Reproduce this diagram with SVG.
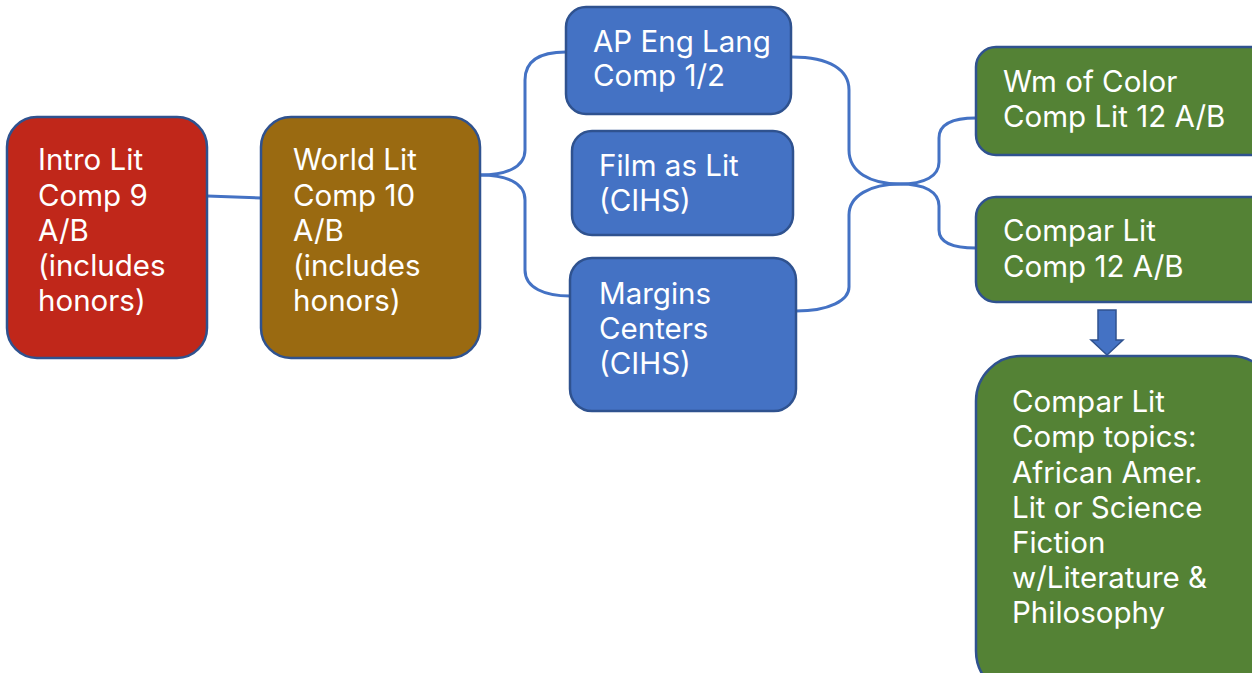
<svg xmlns="http://www.w3.org/2000/svg" width="1252" height="673" viewBox="0 0 1252 673">
<style>
.n{stroke:#2F528F;stroke-width:2.5}
.t{font-family:Inter,"Liberation Sans",sans-serif;font-size:29.5px;fill:#FFFFFF}
.c{fill:none;stroke:#4472C4;stroke-width:3}
</style>
<rect width="1252" height="673" fill="#FFFFFF"/>
<g id="connectors">
<path class="c" d="M207,196 L261,198"/>
<path class="c" d="M480,175 C505,175 525,168 525,150 L525,80 C525,60 540,52 566,52"/>
<path class="c" d="M480,175 C505,175 525,182 525,200 L525,270 C525,288 545,296 570,296"/>
<path class="c" d="M792,57 C830,57 849,70 849,90 L849,150 C849,172 870,184 900,184"/>
<path class="c" d="M796,311 C830,311 849,300 849,287 L849,215 C849,196 870,184 900,184"/>
<path class="c" d="M900,184 C925,184 939,176 939,162 L939,138 C939,125 950,118 976,118"/>
<path class="c" d="M900,184 C925,184 939,192 939,206 L939,230 C939,242 950,248 976,248"/>
<path d="M1098,310 L1116,310 L1116,340 L1123,340 L1107,355 L1091,340 L1098,340 Z" fill="#4472C4" stroke="#2F528F" stroke-width="1.5"/>
</g>
<g id="intro">
<rect class="n" x="7" y="117" width="200" height="241" rx="30" fill="#C0271A"/>
<text class="t"><tspan x="38" y="170">Intro Lit</tspan><tspan x="38" y="205.5">Comp 9</tspan><tspan x="38" y="241">A/B</tspan><tspan x="38" y="276">(includes</tspan><tspan x="38" y="311">honors)</tspan></text>
</g>
<g id="world">
<rect class="n" x="261" y="117" width="219" height="241" rx="30" fill="#9A6A11"/>
<text class="t"><tspan x="293" y="170">World Lit</tspan><tspan x="293" y="205.5">Comp 10</tspan><tspan x="293" y="241">A/B</tspan><tspan x="293" y="276">(includes</tspan><tspan x="293" y="311">honors)</tspan></text>
</g>
<g id="ap">
<rect class="n" x="566" y="7" width="225" height="107" rx="20" fill="#4472C4"/>
<text class="t"><tspan x="593" y="52">AP Eng Lang</tspan><tspan x="593" y="86">Comp 1/2</tspan></text>
</g>
<g id="film">
<rect class="n" x="572" y="131" width="221" height="104" rx="20" fill="#4472C4"/>
<text class="t"><tspan x="599" y="176">Film as Lit</tspan><tspan x="599" y="211">(CIHS)</tspan></text>
</g>
<g id="margins">
<rect class="n" x="570" y="258" width="226" height="153" rx="22" fill="#4472C4"/>
<text class="t"><tspan x="599" y="304">Margins</tspan><tspan x="599" y="339">Centers</tspan><tspan x="599" y="374">(CIHS)</tspan></text>
</g>
<g id="wm">
<rect class="n" x="976" y="47" width="300" height="108" rx="20" fill="#548235"/>
<text class="t"><tspan x="1003" y="92">Wm of Color</tspan><tspan x="1003" y="127">Comp Lit 12 A/B</tspan></text>
</g>
<g id="compar">
<rect class="n" x="976" y="197" width="300" height="105" rx="20" fill="#548235"/>
<text class="t"><tspan x="1003" y="241">Compar Lit</tspan><tspan x="1003" y="277">Comp 12 A/B</tspan></text>
</g>
<g id="topics">
<rect class="n" x="976" y="356" width="300" height="340" rx="45" fill="#548235"/>
<text class="t"><tspan x="1012" y="412">Compar Lit</tspan><tspan x="1012" y="447">Comp topics:</tspan><tspan x="1012" y="482.5">African Amer.</tspan><tspan x="1012" y="517.5">Lit or Science</tspan><tspan x="1012" y="553">Fiction</tspan><tspan x="1012" y="588">w/Literature &amp;</tspan><tspan x="1012" y="623">Philosophy</tspan></text>
</g>
</svg>
